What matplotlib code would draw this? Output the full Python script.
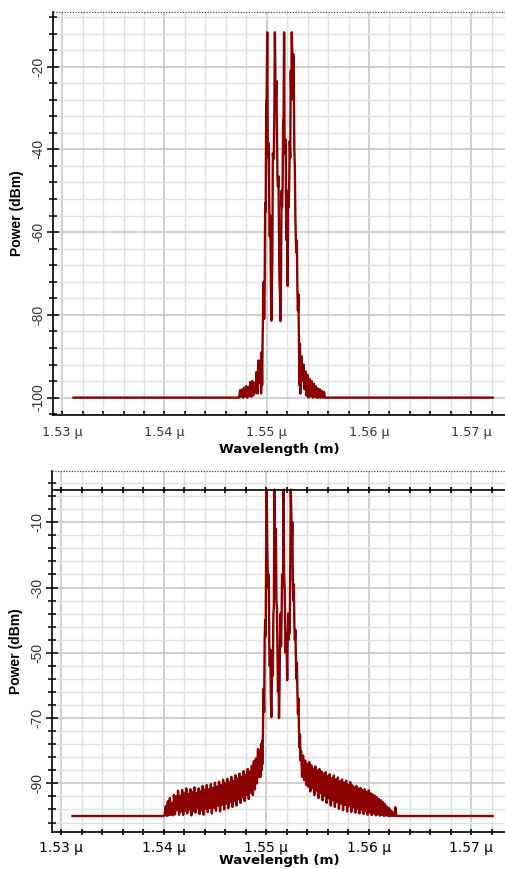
import numpy as np
import matplotlib
matplotlib.use('Agg')
import matplotlib.pyplot as plt
from matplotlib.ticker import MultipleLocator, FixedLocator

plt.rcParams['axes.unicode_minus'] = False

# wavelength axis, values in micrometres
x_ticks = [1.53, 1.54, 1.55, 1.56, 1.57]
x_ticklabels = ['1.53 µ', '1.54 µ', '1.55 µ', '1.56 µ', '1.57 µ']

floor_dbm = -100
floor_start = 1.5311
floor_end = 1.5721
wing_step = 0.0001
core_step = 0.00005
core_start = 1.5494
right_start = 1.5534

# ---- upper spectrum ----
top_left_start = 1.5473
top_left = [-100, -98.2, -99.8, -98, -100, -97.6, -99.7, -97.2, -100, -97.5,
            -99.6, -96.2, -99.8, -96, -99.4, -96.5, -98.8, -93.8, -99, -91,
            -96.5]
top_core = [-92, -99, -89, -97, -86, -78, -72, -81, -73, -53,
            -55, -29, -27, -11.7, -38, -42, -38.5, -55, -61, -56,
            -70, -81.4, -74, -66, -41, -42.4, -40.7, -30, -11.7, -23,
            -27, -23.5, -35, -47, -49, -46.5, -60, -72, -75, -81.5,
            -70, -50, -54, -50, -34, -32, -11.7, -38, -41, -37.6,
            -57, -62, -57, -73, -50, -54, -48, -38, -42, -21,
            -28, -11.7, -17, -25, -17, -24, -40, -44, -56, -62,
            -65, -62, -74, -79, -75, -86, -97, -87, -99, -93]
top_right = [-90, -96, -92, -98, -93.7, -99.5, -94.5, -100, -95.5, -99.6,
             -96, -100, -96.6, -99.8, -97.2, -100, -97.8, -100, -98, -100,
             -98.4, -100, -98.6, -100]
top_yticks = [-20, -40, -60, -80, -100]

# ---- lower spectrum ----
bot_left_start = 1.5400
bot_left = [-100, -99.5, -97, -100, -95.5, -99.8, -94.5, -99.6, -96, -99.8,
            -93.5, -99.5, -94, -98.2, -92.3, -99.6, -93.8, -98.6, -92, -99.7,
            -93, -98.3, -91.5, -99.2, -93.2, -98, -91.8, -99.8, -92.6, -98.5,
            -91.2, -99, -93, -97.6, -91.5, -99.4, -92.4, -98.2, -90.8, -99.6,
            -92, -97.8, -90.5, -98.8, -91.8, -97.5, -90.2, -99.2, -91.4, -97.4,
            -89.8, -98.4, -91, -96.8, -89.5, -98.6, -90.6, -96.5, -88.9, -98,
            -90, -96.2, -88.6, -97.6, -89.6, -95.8, -88, -97.2, -89.2, -95.4,
            -87.5, -96.8, -88.6, -94.8, -87, -96, -88, -94.2, -86.2, -95.4,
            -87.4, -93.6, -85.6, -94.8, -86.4, -92.8, -84.6, -93.6, -83.2, -91.8,
            -82.4, -90, -79.5, -88]
bot_core = [-80, -88, -78, -86, -77, -84, -70, -61, -68, -46,
            -40, -45, -16, 0, -16, -26, -30, -26, -47, -54,
            -49, -62, -69.7, -60, -50, -57, -38, -36, 0, -10.5,
            -17.5, -12, -34, -36, -48, -62, -55, -70, -62, -45,
            -38, -48, -40, -26, -30, -25, 0, -25.6, -30, -42,
            -50, -44, -49, -58.4, -45, -38, -46, -40, -44, -20,
            0, -7.5, -17.6, -10, -28, -34, -29, -42, -46, -43,
            -52, -58, -53, -62.5, -68.6, -64, -74, -79, -75, -83]
bot_right = [-80, -88, -81.5, -89, -83, -90.5, -84, -91, -83.5, -92.5,
             -84.5, -91.5, -85.5, -93.6, -84.8, -92.2, -86, -94.5, -85.6, -93,
             -86.4, -95.2, -87, -93.8, -86.6, -96, -87.8, -94.6, -87.2, -96.8,
             -88.4, -95.2, -87.6, -97.2, -88.8, -95.8, -88.2, -97.8, -89.4, -96.2,
             -88.8, -98.2, -89.8, -96.6, -89.2, -98.6, -90.4, -97, -89.6, -98.8,
             -90.6, -97.4, -91.2, -99, -90.8, -97.8, -91.6, -99.2, -91.4, -98,
             -92, -99.4, -91.8, -98.4, -92.6, -99.6, -92.2, -98.8, -93, -99.7,
             -93.4, -99.2, -93.8, -99.8, -94.2, -99.5, -94.8, -99.9, -95.2, -99.7,
             -95.8, -100, -96.4, -99.8, -97.2, -100, -97.6, -100, -98.4, -100,
             -99, -100, -97.3, -100]
bot_yticks = [-10, -30, -50, -70, -90]

line_color = '#8b0000'


def spectrum(left_start, left, core, right):
    lam = np.concatenate([[floor_start],
                          left_start + wing_step * np.arange(len(left)),
                          core_start + core_step * np.arange(len(core)),
                          right_start + wing_step * np.arange(len(right)),
                          [floor_end]])
    pw = np.concatenate([[floor_dbm], left, core, right, [floor_dbm]])
    return lam, pw


def style_axes(ax, yticks, yminor, ylim, xlabelpad):
    ax.set_xlim(1.5291, 1.5734)
    ax.set_ylim(*ylim)
    ax.set_axisbelow(True)
    ax.set_xticks(x_ticks)
    ax.set_xticklabels(x_ticklabels, fontfamily='DejaVu Sans', fontsize=9.2, color='#333333')
    ax.xaxis.set_minor_locator(MultipleLocator(0.002))
    ax.set_yticks(yticks)
    ax.set_yticklabels([str(v) for v in yticks], fontfamily='Liberation Sans', fontsize=10,
                       color='#333333', rotation=90, va='center')
    ax.yaxis.set_minor_locator(FixedLocator(yminor))
    ax.grid(which='major', color='#c8c8c8', lw=1.2)
    ax.grid(which='minor', color='#e0e0e0', lw=1.0)
    ax.spines['right'].set_visible(False)
    ax.spines['left'].set_linewidth(1.2)
    ax.spines['bottom'].set_linewidth(1.2)
    ax.tick_params(axis='y', which='major', direction='inout', length=8, width=1.1, pad=1.5)
    ax.tick_params(axis='y', which='minor', direction='inout', length=6, width=1.1)
    ax.set_ylabel('Power (dBm)', fontfamily='Liberation Sans', fontweight='bold',
                  fontsize=10, labelpad=5)
    ax.set_xlabel('Wavelength (m)', fontfamily='DejaVu Sans', fontweight='bold',
                  fontsize=9.6, labelpad=xlabelpad)
    # dotted frame line at the top of the plot area
    ax.plot([0, 1], [1, 1], transform=ax.transAxes, color='#444444', lw=0.9,
            ls=(0, (1, 1.2)), clip_on=False)


fig = plt.figure(figsize=(5.06, 8.69), dpi=100)

# upper panel
ax1 = fig.add_axes([53 / 506, 1 - 415 / 869, (506 - 53) / 506, (415 - 12) / 869])
lam1, pw1 = spectrum(top_left_start, top_left, top_core, top_right)
ax1.plot(lam1, pw1, color=line_color, lw=1.7)
style_axes(ax1, top_yticks, np.arange(-104, -7, 4), (-104.2, -6.8), 2.5)
ax1.spines['top'].set_visible(False)
ax1.tick_params(axis='x', which='both', direction='in', length=3, width=1.2, pad=8)

# lower panel
ax2 = fig.add_axes([52 / 506, 1 - 832 / 869, (506 - 52) / 506, (832 - 470.7) / 869])
lam2, pw2 = spectrum(bot_left_start, bot_left, bot_core, bot_right)
ax2.plot(lam2, pw2, color=line_color, lw=1.7)
style_axes(ax2, bot_yticks, np.arange(-102, 3, 4), (-104.9, 5.8), -0.5)
ax2.spines['top'].set_position(('data', 0))
ax2.spines['top'].set_linewidth(1.2)
ax2.spines['bottom'].set_linestyle((0, (1, 1)))
ax2.tick_params(axis='x', which='both', direction='inout', length=5, width=1.2,
                top=True, labeltop=False, pad=4)

fig.savefig('out.png', dpi=100)
